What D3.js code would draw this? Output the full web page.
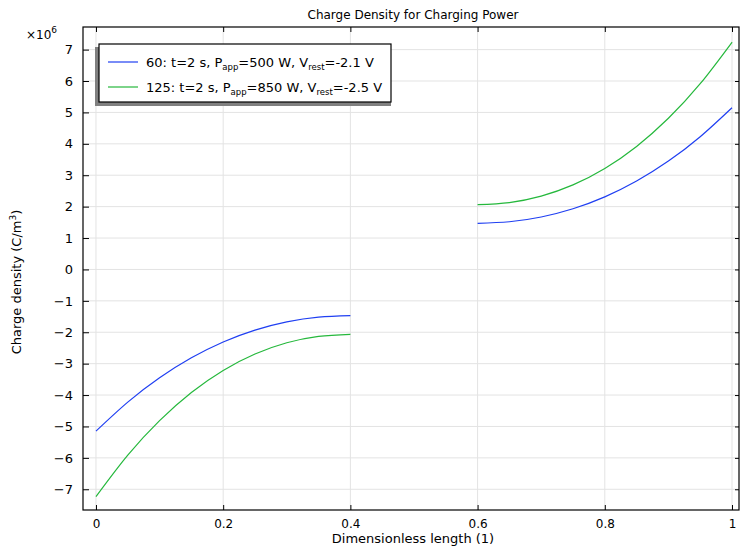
<!DOCTYPE html>
<html><head><meta charset="utf-8">
<script src="https://cdn.jsdelivr.net/npm/d3@7"></script>
<style>body{margin:0;background:#fff}svg{display:block;font-family:"DejaVu Sans",sans-serif}</style>
</head><body>
<svg id="c" width="740" height="549"></svg>
<script>
const xLeft = [0, 0.05, 0.1, 0.15, 0.2, 0.25, 0.3, 0.35, 0.4];
const xRight = [0.6, 0.65, 0.7, 0.75, 0.8, 0.85, 0.9, 0.95, 1.0];
const blueLeft = [-5.150, -4.226, -3.450, -2.814, -2.310, -1.931, -1.670, -1.519, -1.470];
const blueRight = [1.470, 1.519, 1.670, 1.931, 2.310, 2.814, 3.450, 4.226, 5.150];
const greenLeft = [-7.235, -5.914, -4.813, -3.917, -3.215, -2.692, -2.335, -2.130, -2.065];
const greenRight = [2.065, 2.130, 2.335, 2.692, 3.215, 3.917, 4.813, 5.914, 7.235];
const xTicks = [0, 0.2, 0.4, 0.6, 0.8, 1];
const yTicks = [-7, -6, -5, -4, -3, -2, -1, 0, 1, 2, 3, 4, 5, 6, 7];
const seriesNames = [
  ["60: t=2 s, P", "app", "=500 W, V", "rest", "=-2.1 V"],
  ["125: t=2 s, P", "app", "=850 W, V", "rest", "=-2.5 V"]
];
const colors = ["#1f3ff2", "#25b83c"];

const svg = d3.select("#c");
const L = 83, R = 739, T = 27, B = 510;
const x = d3.scaleLinear().domain([-0.0204, 1.0110]).range([L, R]);
const y = d3.scaleLinear().domain([-7.66, 7.72]).range([B, T]);

// grid
const g = svg.append("g");
g.selectAll(".vg").data(xTicks).join("line")
  .attr("x1", d => x(d)).attr("x2", d => x(d)).attr("y1", T).attr("y2", B)
  .attr("stroke", "#e3e3e3").attr("stroke-width", 1);
g.selectAll(".hg").data(yTicks).join("line")
  .attr("x1", L).attr("x2", R).attr("y1", d => y(d)).attr("y2", d => y(d))
  .attr("stroke", "#e3e3e3").attr("stroke-width", 1);

// curves
const line = d3.line().x(d => x(d[0])).y(d => y(d[1])).curve(d3.curveNatural);
const segs = [
  [xLeft, blueLeft, 0], [xRight, blueRight, 0],
  [xLeft, greenLeft, 1], [xRight, greenRight, 1]
];
segs.forEach(([xs, ys, c]) => {
  svg.append("path").datum(xs.map((v, i) => [v, ys[i]]))
    .attr("d", line).attr("fill", "none").attr("stroke", colors[c]).attr("stroke-width", 1.2);
});

// axes (ticks inward)
const ax = svg.append("g").attr("font-size", 12).attr("fill", "#000");
ax.append("g").attr("transform", `translate(0,${B})`)
  .call(d3.axisBottom(x).tickValues(xTicks).tickSize(-5).tickPadding(9).tickFormat(d3.format("")))
  .call(s => { s.select(".domain").remove(); s.selectAll("text").attr("font-size", 12).attr("font-family", "DejaVu Sans"); });
ax.append("g").attr("transform", `translate(0,${T})`)
  .call(d3.axisTop(x).tickValues(xTicks).tickSize(-5).tickFormat(""))
  .call(s => s.select(".domain").remove());
ax.append("g").attr("transform", `translate(${L},0)`)
  .call(d3.axisLeft(y).tickValues(yTicks).tickSize(-6).tickPadding(10).tickFormat(d3.format("")))
  .call(s => { s.select(".domain").remove(); s.selectAll("text").attr("font-size", 13).attr("font-family", "DejaVu Sans"); });
ax.append("g").attr("transform", `translate(${R},0)`)
  .call(d3.axisRight(y).tickValues(yTicks).tickSize(-4).tickFormat(""))
  .call(s => s.select(".domain").remove());
svg.selectAll(".tick line").attr("stroke", "#000");
svg.selectAll(".tick text").attr("fill", "#000");

// frame
svg.append("rect").attr("x", L).attr("y", T).attr("width", R - L).attr("height", B - T)
  .attr("fill", "none").attr("stroke", "#000").attr("stroke-width", 1.2);

// multiplier
const mt = svg.append("text").attr("x", 26).attr("y", 39).attr("font-size", 12);
mt.append("tspan").text("×10");
mt.append("tspan").attr("dy", -6).attr("font-size", 9).text("6");

// title
svg.append("text").attr("x", 413).attr("y", 19).attr("text-anchor", "middle").attr("font-size", 12).text("Charge Density for Charging Power");

// axis labels
svg.append("text").attr("x", 413).attr("y", 543).attr("text-anchor", "middle").attr("font-size", 13).text("Dimensionless length (1)");
const yl = svg.append("text").attr("transform", "translate(21,282) rotate(-90)").attr("text-anchor", "middle").attr("font-size", 13);
yl.append("tspan").text("Charge density (C/m");
yl.append("tspan").attr("dy", -5).attr("font-size", 9).text("3");
yl.append("tspan").attr("dy", 5).text(")");

// legend
const lg = svg.append("g");
lg.append("rect").attr("x", 95).attr("y", 47).attr("width", 296).attr("height", 59).attr("fill", "#808080");
lg.append("rect").attr("x", 99).attr("y", 44).attr("width", 292).attr("height", 58)
  .attr("fill", "#fff").attr("stroke", "#000").attr("stroke-width", 1.2);
seriesNames.forEach((p, i) => {
  const yy = 62 + i * 25;
  lg.append("line").attr("x1", 108).attr("x2", 138).attr("y1", yy).attr("y2", yy)
    .attr("stroke", colors[i]).attr("stroke-width", 1.2);
  const t = lg.append("text").attr("x", 146).attr("y", yy + 4.5).attr("font-size", 13);
  t.append("tspan").text(p[0]);
  t.append("tspan").attr("dy", 3).attr("font-size", 8.5).text(p[1]);
  t.append("tspan").attr("dy", -3).text(p[2]);
  t.append("tspan").attr("dy", 3).attr("font-size", 8.5).text(p[3]);
  t.append("tspan").attr("dy", -3).text(p[4]);
});
</script>
</body></html>
